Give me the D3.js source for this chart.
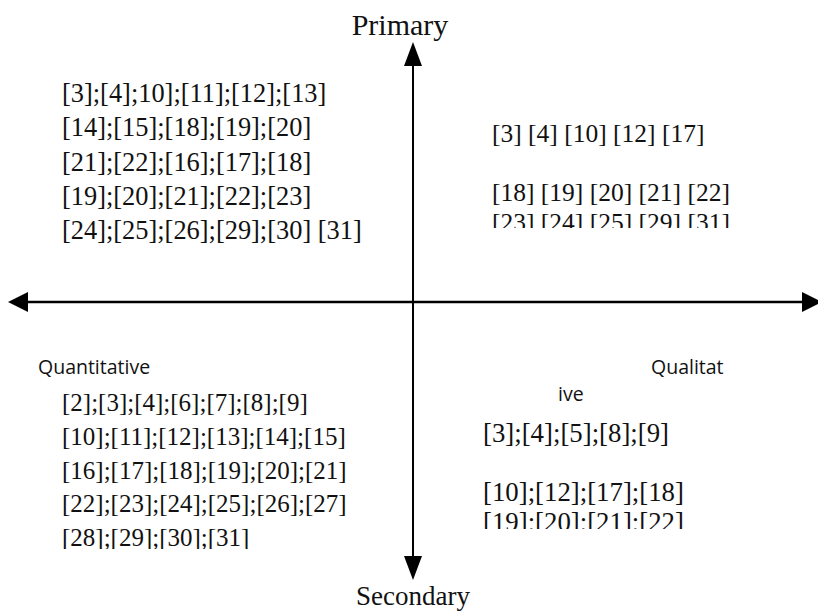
<!DOCTYPE html>
<html lang="en">
  <head>
    <meta charset="utf-8">
    <title>Quadrant</title>
    <script src="https://d3js.org/d3.v7.min.js"></script>
    <style>
      body { margin: 0; background: #fff; }
    </style>
  </head>
  <body>
    <script>
      var w = 818, h = 612;

      // quadrant contents
      var topLeft = ["[3];[4];10];[11];[12];[13]", "[14];[15];[18];[19];[20]",
                     "[21];[22];[16];[17];[18]", "[19];[20];[21];[22];[23]",
                     "[24];[25];[26];[29];[30] [31]"];
      var topRight = ["[3] [4] [10] [12] [17]", "", "[18] [19] [20] [21] [22]",
                      "[23] [24] [25] [29] [31]"];
      var bottomLeft = ["[2];[3];[4];[6];[7];[8];[9]", "[10];[11];[12];[13];[14];[15]",
                        "[16];[17];[18];[19];[20];[21]", "[22];[23];[24];[25];[26];[27]",
                        "[28];[29];[30];[31]"];
      var bottomRight = ["[3];[4];[5];[8];[9]", "", "[10];[12];[17];[18]",
                         "[19];[20];[21];[22]"];
      var axisNames = ["Primary", "Secondary"];
      var sideNames = ["Quantitative", "Qualitat", "ive"];

      var x = d3.scaleLinear().domain([-1, 1]).range([8, 818]);
      var y = d3.scaleLinear().domain([-1, 1]).range([580, 42]);
      var cx = x(0), cy = 302;

      var svg = d3.select("body").append("svg")
        .attr("width", w).attr("height", h);

      var defs = svg.append("defs");
      function clip(id, x0, y0, x1, y1) {
        defs.append("clipPath").attr("id", id).append("rect")
          .attr("x", x0).attr("y", y0).attr("width", x1 - x0).attr("height", y1 - y0);
      }
      clip("cTR", 470, 100, 780, 228);
      clip("cBL", 30, 380, 400, 549);
      clip("cBR", 470, 410, 780, 529);

      // axes
      svg.append("line").attr("x1", x(-1) + 14).attr("x2", x(1) - 10)
        .attr("y1", cy).attr("y2", cy)
        .attr("stroke", "#000").attr("stroke-width", 2.5);
      svg.append("line").attr("x1", cx).attr("x2", cx)
        .attr("y1", y(1) + 16).attr("y2", y(-1) - 16)
        .attr("stroke", "#000").attr("stroke-width", 2);

      var heads = [
        [[x(-1), cy], [x(-1) + 20, cy - 10], [x(-1) + 20, cy + 10]],
        [[x(1) + 4, cy], [x(1) - 16, cy - 10], [x(1) - 16, cy + 10]],
        [[cx, y(1)], [cx - 9, y(1) + 24], [cx + 9, y(1) + 24]],
        [[cx, y(-1)], [cx - 9, y(-1) - 24], [cx + 9, y(-1) - 24]]
      ];
      svg.selectAll("path.head").data(heads).enter().append("path")
        .attr("class", "head")
        .attr("d", function(d){ return "M" + d.join("L") + "Z"; })
        .attr("fill", "#000");

      var serif = "'Liberation Serif', 'Times New Roman', serif";
      var sans = "'Open Sans', 'Noto Sans', sans-serif";

      function block(lines, x0, y0, step, size, clipId) {
        var g = svg.append("g");
        if (clipId) g.attr("clip-path", "url(#" + clipId + ")");
        g.selectAll("text").data(lines).enter().append("text")
          .attr("x", x0)
          .attr("y", function(d, i){ return y0 + i * step; })
          .attr("font-family", serif).attr("font-size", size)
          .attr("fill", "#111")
          .text(function(d){ return d; });
      }
      block(topLeft, 62, 102, 34.3, 26.4, null);
      block(topRight, 492, 142, 29.5, 25.5, "cTR");
      block(bottomLeft, 62, 411, 33.8, 25, "cBL");
      block(bottomRight, 483, 442, 29.7, 26.8, "cBR");

      svg.append("text").attr("x", 400).attr("y", 35)
        .attr("text-anchor", "middle").attr("font-family", serif)
        .attr("font-size", 30).attr("fill", "#111").text(axisNames[0]);
      svg.append("text").attr("x", 413).attr("y", 605)
        .attr("text-anchor", "middle").attr("font-family", serif)
        .attr("font-size", 27).attr("fill", "#111").text(axisNames[1]);

      var sidePos = [[38, 374], [651, 374], [558, 401]];
      svg.selectAll("text.side").data(sideNames).enter().append("text")
        .attr("class", "side")
        .attr("x", function(d, i){ return sidePos[i][0]; })
        .attr("y", function(d, i){ return sidePos[i][1]; })
        .attr("font-family", sans).attr("font-size", 19.5)
        .attr("fill", "#111")
        .text(function(d){ return d; });
    </script>
  </body>
</html>
